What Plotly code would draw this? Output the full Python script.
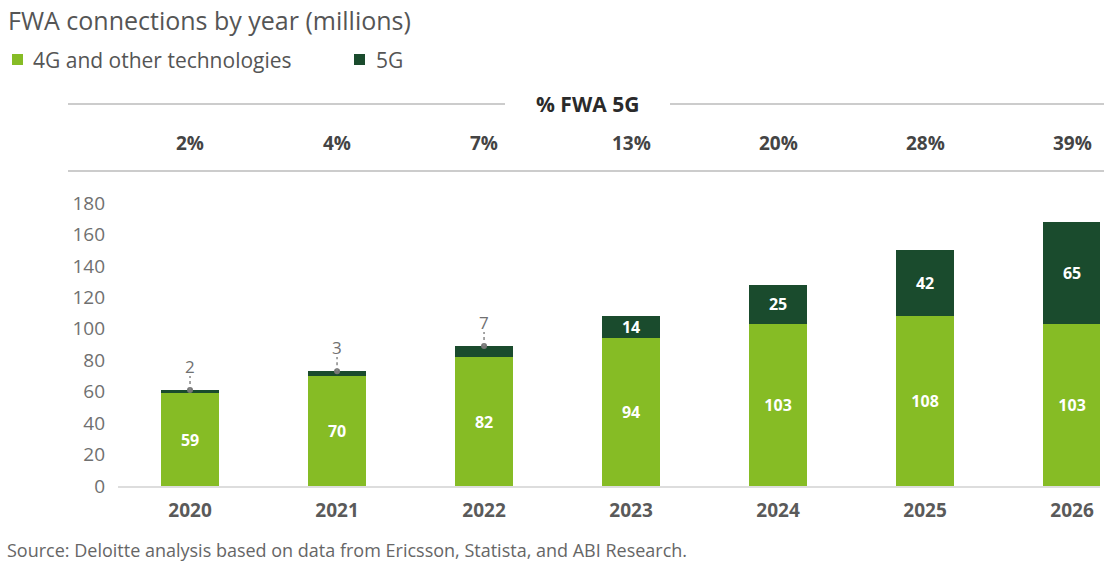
import plotly.graph_objects as go

years = ["2020", "2021", "2022", "2023", "2024", "2025", "2026"]
other_4g = [59, 70, 82, 94, 103, 108, 103]
fiveg = [2, 3, 7, 14, 25, 42, 65]
pct_5g = ["2%", "4%", "7%", "13%", "20%", "28%", "39%"]
series_names = ["4G and other technologies", "5G"]

W, H = 1106, 563
GREEN = "#86BC25"
DARK = "#1A4B2D"
FONT = "Open Sans"

# plot area in pixels
PX_L, PX_R, PX_T, PX_B = 118, 1100, 203, 486


def px(x):
    return x / W


def py(y):
    return 1 - y / H


idx = list(range(len(years)))

fig = go.Figure()
fig.add_trace(go.Bar(
    x=idx, y=other_4g, name=series_names[0],
    marker=dict(color=GREEN, line=dict(width=0)),
    text=[f"<b>{v}</b>" for v in other_4g], textposition="inside",
    insidetextanchor="middle", textangle=0, constraintext="none",
    textfont=dict(color="white", size=16, family=FONT),
))
fig.add_trace(go.Bar(
    x=idx, y=fiveg, name=series_names[1],
    marker=dict(color=DARK, line=dict(width=0)),
    text=[f"<b>{v}</b>" if v >= 10 else "" for v in fiveg], textposition="inside",
    insidetextanchor="middle", textangle=0, constraintext="none",
    textfont=dict(color="white", size=16, family=FONT),
))

annotations = []
shapes = []

# small 5G values labelled above the bar with a dotted leader
small = [i for i in idx if fiveg[i] < 10]
for i in small:
    top = other_4g[i] + fiveg[i]
    annotations.append(dict(
        x=i, y=top + 15, xref="x", yref="y", text=str(fiveg[i]),
        showarrow=False, yanchor="middle",
        font=dict(size=17, color="#707070", family=FONT),
    ))
    shapes.append(dict(
        type="line", xref="x", yref="y", x0=i, x1=i, y0=top, y1=top + 9,
        line=dict(color="#888888", width=1.5, dash="dot"),
    ))
fig.add_trace(go.Scatter(
    x=small, y=[other_4g[i] + fiveg[i] for i in small],
    mode="markers", marker=dict(color="#777777", size=6),
    showlegend=False, hoverinfo="skip",
))

# % FWA 5G header band
for i, p in enumerate(pct_5g):
    annotations.append(dict(
        x=i, y=py(143), xref="x", yref="paper", text=f"<b>{p}</b>",
        showarrow=False, yanchor="middle",
        font=dict(size=19, color="#444444", family=FONT),
    ))
annotations.append(dict(
    x=px(588), y=py(104), xref="paper", yref="paper", text="<b>% FWA 5G</b>",
    showarrow=False, yanchor="middle",
    font=dict(size=21, color="#2a2a2a", family=FONT),
))
shapes += [
    dict(type="line", xref="paper", yref="paper", x0=px(68), x1=px(505),
         y0=py(104), y1=py(104), line=dict(color="#bbbbbb", width=1.5)),
    dict(type="line", xref="paper", yref="paper", x0=px(670), x1=px(1104),
         y0=py(104), y1=py(104), line=dict(color="#bbbbbb", width=1.5)),
    dict(type="line", xref="paper", yref="paper", x0=px(68), x1=px(1104),
         y0=py(171), y1=py(171), line=dict(color="#bbbbbb", width=1.5)),
]

# legend swatches and labels
legend_items = [(series_names[0], GREEN, 12, 31), (series_names[1], DARK, 354, 374)]
for name, color, sx, tx in legend_items:
    shapes.append(dict(
        type="rect", xref="paper", yref="paper",
        x0=px(sx), x1=px(sx + 11), y0=py(54), y1=py(65),
        fillcolor=color, line=dict(width=0),
    ))
    annotations.append(dict(
        x=px(tx), y=py(60), xref="paper", yref="paper", text=name,
        showarrow=False, xanchor="left", yanchor="middle",
        font=dict(size=21, color="#555555", family=FONT),
    ))

# title and source
annotations.append(dict(
    x=px(6), y=py(20), xref="paper", yref="paper",
    text="FWA connections by year (millions)", showarrow=False,
    xanchor="left", yanchor="middle",
    font=dict(size=25, color="#555555", family=FONT),
))
annotations.append(dict(
    x=px(6), y=py(550), xref="paper", yref="paper",
    text="Source: Deloitte analysis based on data from Ericsson, Statista, and ABI Research.",
    showarrow=False, xanchor="left", yanchor="middle", borderpad=0,
    font=dict(size=18, color="#666666", family=FONT),
))

fig.update_layout(
    width=W, height=H,
    margin=dict(l=0, r=0, t=0, b=0, autoexpand=False),
    paper_bgcolor="white", plot_bgcolor="white",
    barmode="stack", bargap=0.6,
    font=dict(family=FONT, color="#666666"),
    showlegend=False,
    annotations=annotations, shapes=shapes,
    xaxis=dict(
        domain=[px(PX_L), px(PX_R)], range=[-0.49, 6.19], automargin=False,
        tickmode="array", tickvals=idx, ticktext=[f"<b>{y}</b>" for y in years],
        showgrid=False, showline=True, linecolor="#dddddd", linewidth=1.5,
        zeroline=False, ticks="",
        tickfont=dict(size=19, color="#5a5a5a", family=FONT),
        ticklabelstandoff=6,
    ),
    yaxis=dict(
        domain=[py(PX_B), py(PX_T)], range=[0, 180], dtick=20, automargin=False,
        showgrid=False, zeroline=False, showline=False,
        tickfont=dict(size=19, color="#707070", family=FONT),
        ticklabelstandoff=12,
    ),
)

fig.write_html("out.html")
